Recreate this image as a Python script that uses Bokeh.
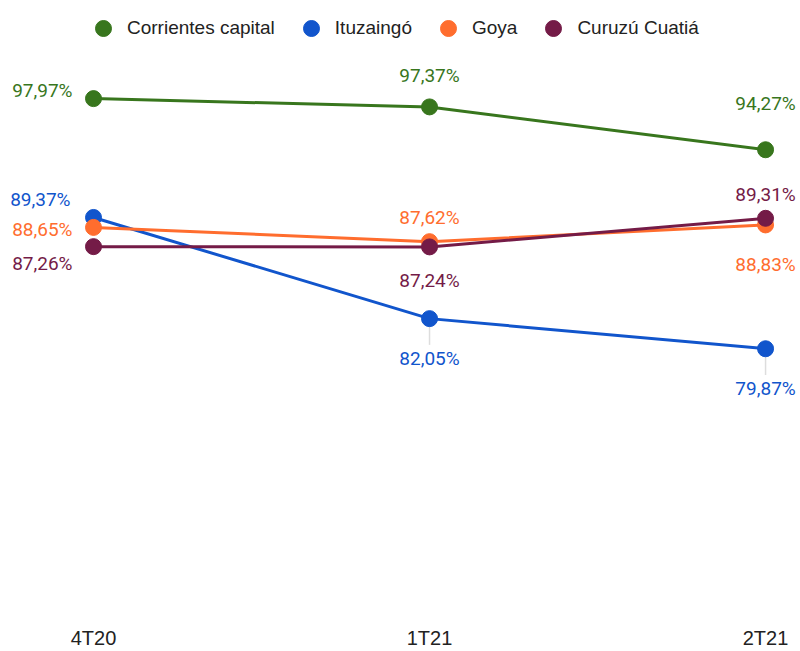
from bokeh.plotting import figure
from bokeh.models import Range1d, Legend, LegendItem, ColumnDataSource, FixedTicker
from bokeh.embed import file_html
from bokeh.resources import INLINE
from bokeh.core.properties import value

# ---- data ----
periods = ["4T20", "1T21", "2T21"]
series_names = ["Corrientes capital", "Ituzaingó", "Goya", "Curuzú Cuatiá"]
corrientes = [97.97, 97.37, 94.27]
ituzaingo = [89.37, 82.05, 79.87]
goya = [88.65, 87.62, 88.83]
curuzu = [87.26, 87.24, 89.31]
series_values = [corrientes, ituzaingo, goya, curuzu]

# ---- styles ----
colors = ["#38761d", "#1155cc", "#ff6d2e", "#741b47"]
# label offsets in screen px (dx, dy) and alignment per series/point
label_dx = [[-21, 0, 0], [-23, 0, 0], [-21, 0, 0], [-21, 0, 0]]
label_dy = [[-8, -31, -46], [-18, 40, 40], [2, -24, 40], [17, 34, -24]]
label_align = [["right", "center", "center"]] * 4
leaders = [(1, 1), (1, 2)]  # (series, point) with a connector line
leader_len = 1.9  # in value units

xs = list(range(len(periods)))

p = figure(width=800, height=651, output_backend="svg", toolbar_location=None,
           x_range=Range1d(-0.2768, 2.104), y_range=Range1d(60.93, 105.07),
           min_border=0, min_border_left=0, min_border_right=0,
           min_border_top=0, min_border_bottom=0)
p.outline_line_color = None
p.xgrid.visible = False
p.ygrid.visible = False
p.yaxis.visible = False
p.background_fill_color = "white"
p.border_fill_color = "white"

p.xaxis.ticker = FixedTicker(ticks=xs)
p.xaxis.major_label_overrides = {i: lab for i, lab in zip(xs, periods)}
p.xaxis.axis_line_color = None
p.xaxis.major_tick_line_color = None
p.xaxis.minor_tick_line_color = None
p.xaxis.major_label_text_font = "Liberation Sans"
p.xaxis.major_label_text_font_size = "20px"
p.xaxis.major_label_text_color = "#222222"
p.xaxis.major_label_standoff = 10

# leader lines
for s, i in leaders:
    v = series_values[s][i]
    p.segment(x0=[xs[i]], y0=[v], x1=[xs[i]], y1=[v - leader_len],
              line_color="#dddddd", line_width=1.5)

items = []
for k, (name, vals, col) in enumerate(zip(series_names, series_values, colors)):
    src = ColumnDataSource(dict(x=xs, y=vals))
    p.line("x", "y", source=src, line_color=col, line_width=3)
    r = p.scatter("x", "y", source=src, size=16, fill_color=col, line_color=col)
    items.append(LegendItem(label=name, renderers=[r]))

for k, (vals, col) in enumerate(zip(series_values, colors)):
    labels = [f"{v:.2f}".replace(".", ",") + "%" for v in vals]
    for i, (x, v, t) in enumerate(zip(xs, vals, labels)):
        p.text(x=[x], y=[v], text=[t], x_offset=label_dx[k][i], y_offset=label_dy[k][i],
               text_align=label_align[k][i], text_baseline="middle",
               text_font=value("Roboto"), text_font_size="19px", text_color=col)

legend = Legend(items=items, orientation="horizontal", location=(81, 562),
                glyph_width=44, glyph_height=40, label_standoff=2, spacing=14,
                padding=0, margin=0, border_line_color=None, background_fill_alpha=0,
                label_text_font="Liberation Sans", label_text_font_size="19px",
                label_text_color="#222222", label_text_baseline="middle")
p.add_layout(legend)

open("out.html", "w").write(file_html(p, INLINE))
